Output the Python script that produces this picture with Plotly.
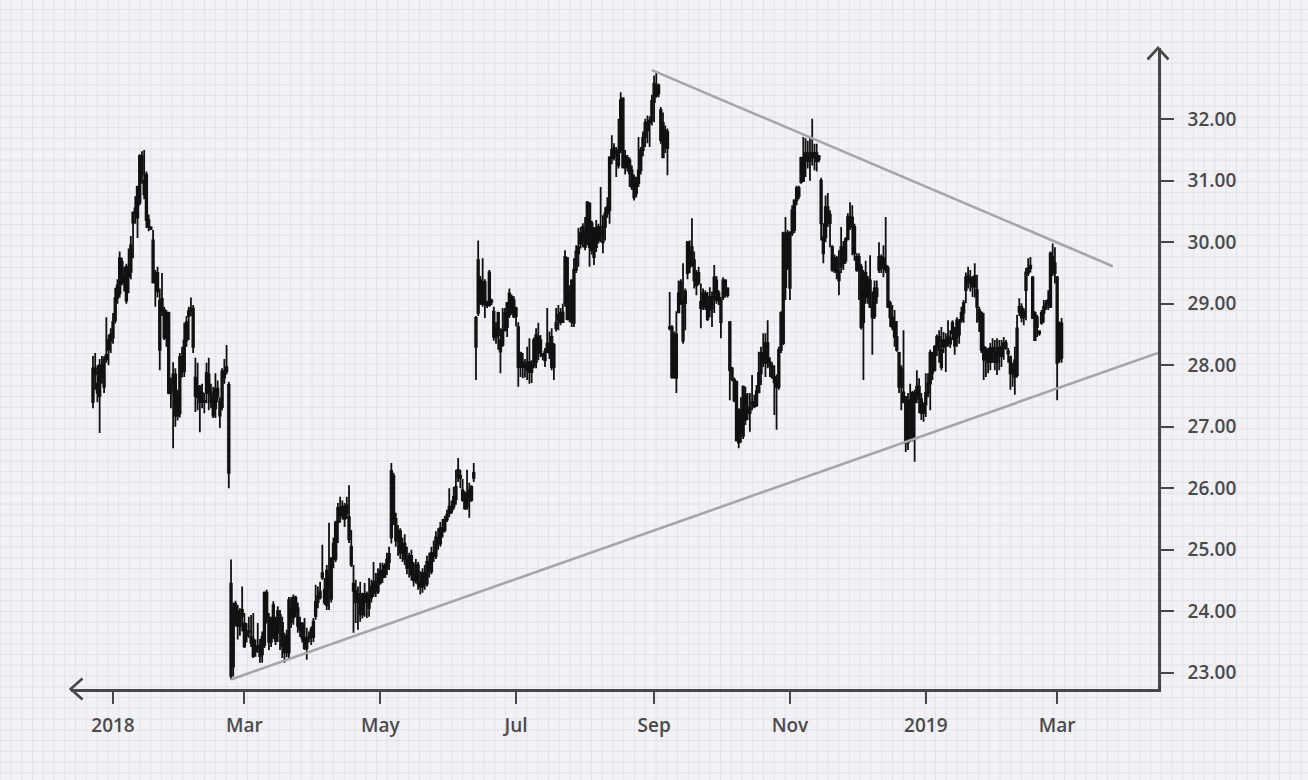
import pandas as pd
import plotly.graph_objects as go

# ---------------- data ----------------
first_day = "2017-12-23"   # daily candles, one per calendar day

seg1_ohlc = [
    [27.40, 28.15, 27.30, 27.95], [27.95, 28.20, 27.60, 27.85], [27.70, 28.00, 27.40, 27.55],
    [27.50, 28.10, 26.90, 28.00], [28.00, 28.15, 27.70, 27.80], [27.65, 28.15, 27.55, 28.10],
    [28.10, 28.78, 28.04, 28.17], [28.25, 28.50, 28.00, 28.41], [28.40, 28.60, 28.20, 28.50],
    [28.45, 28.85, 28.35, 28.70], [28.73, 29.26, 28.68, 29.09], [29.09, 29.40, 29.00, 29.30],
    [29.17, 29.85, 29.10, 29.74], [29.68, 29.75, 29.30, 29.35], [29.35, 29.60, 29.20, 29.45],
    [29.60, 29.65, 29.00, 29.05], [29.45, 29.90, 29.17, 29.52], [29.52, 30.10, 29.40, 29.95],
    [30.32, 30.50, 29.74, 30.48], [30.48, 30.75, 30.30, 30.55], [30.40, 30.92, 30.07, 30.90],
    [30.65, 31.43, 30.60, 31.40], [31.40, 31.48, 30.95, 31.10], [31.00, 31.50, 30.70, 30.78],
    [31.10, 31.15, 30.23, 30.36], [30.36, 30.45, 30.18, 30.25], [30.24, 30.26, 30.20, 30.22],
    [30.03, 30.20, 29.33, 29.35], [29.35, 29.55, 28.95, 29.50], [29.50, 29.60, 29.10, 29.20],
    [29.05, 29.25, 27.92, 28.25], [28.88, 29.50, 28.80, 29.08], [28.90, 28.95, 28.41, 28.45],
    [28.45, 28.90, 28.30, 28.85], [28.85, 28.87, 27.53, 27.55], [27.55, 27.80, 27.30, 27.70],
    [27.70, 28.05, 26.65, 27.85], [27.85, 27.95, 27.00, 27.18], [27.18, 27.60, 27.10, 27.50],
    [27.22, 28.20, 27.15, 28.13], [28.13, 28.30, 27.80, 27.90], [27.90, 28.69, 27.81, 28.40],
    [28.40, 28.80, 28.30, 28.70], [28.80, 28.95, 28.41, 28.88], [28.88, 29.10, 28.80, 28.92],
    [28.92, 28.98, 28.20, 28.30], [27.80, 28.12, 27.24, 27.50], [27.48, 28.04, 27.27, 27.63],
    [27.65, 27.68, 26.91, 27.40], [27.40, 27.70, 27.30, 27.55], [27.40, 27.55, 27.22, 27.42],
    [27.55, 28.04, 27.38, 27.87], [27.85, 28.12, 27.27, 27.56], [27.56, 27.70, 27.30, 27.40],
    [27.48, 27.65, 27.14, 27.18], [27.30, 27.87, 27.14, 27.62], [27.62, 27.75, 27.40, 27.50],
    [27.40, 27.48, 26.98, 27.18], [27.32, 27.95, 27.27, 27.90], [27.90, 28.10, 27.70, 27.80],
    [27.90, 28.33, 27.85, 27.97], [27.68, 27.73, 26.00, 26.25],
]

seg2_ohlc = [
    [22.95, 24.84, 22.89, 24.45], [24.05, 24.14, 22.94, 23.10], [23.82, 24.17, 23.75, 24.12],
    [24.00, 24.10, 23.54, 23.76], [23.76, 24.05, 23.60, 23.95], [23.92, 24.40, 23.67, 24.02],
    [23.80, 23.97, 23.40, 23.43], [23.60, 23.81, 23.49, 23.65], [23.66, 23.91, 23.57, 23.68],
    [23.58, 23.94, 23.42, 23.49], [23.54, 23.97, 23.24, 23.27], [23.35, 23.54, 23.26, 23.42],
    [23.40, 23.81, 23.32, 23.43], [23.45, 23.55, 23.16, 23.27], [23.30, 23.67, 23.16, 23.58],
    [23.45, 24.32, 23.40, 24.30], [24.30, 24.35, 23.80, 23.90], [23.90, 23.97, 23.37, 23.50],
    [23.50, 23.91, 23.42, 23.85], [23.60, 24.16, 23.55, 24.10], [23.85, 23.91, 23.45, 23.52],
    [23.65, 24.08, 23.50, 24.00], [23.80, 24.02, 23.37, 23.94], [23.81, 23.91, 23.24, 23.43],
    [23.45, 23.65, 23.16, 23.33], [23.33, 23.70, 23.25, 23.60], [23.33, 24.23, 23.24, 24.18],
    [24.05, 24.23, 23.73, 23.83], [23.90, 24.27, 23.78, 24.22], [24.22, 24.25, 23.90, 24.00],
    [24.05, 24.14, 23.65, 23.76],
    [23.70, 23.91, 23.58, 23.80], [23.80, 23.82, 23.49, 23.56], [23.56, 23.89, 23.37, 23.40],
    [23.40, 23.73, 23.21, 23.56], [23.56, 23.67, 23.49, 23.58], [23.58, 23.75, 23.45, 23.70],
    [23.58, 23.89, 23.50, 23.83], [23.92, 24.43, 23.86, 24.15], [24.15, 24.40, 24.05, 24.25],
    [24.22, 24.48, 24.19, 24.32], [24.55, 25.08, 24.51, 24.62], [24.35, 24.54, 24.10, 24.15],
    [24.10, 24.75, 24.02, 24.66], [24.60, 25.44, 24.02, 24.38], [24.20, 24.88, 24.14, 24.85],
    [24.85, 25.20, 24.70, 25.10], [24.85, 25.47, 24.80, 25.44], [25.45, 25.76, 25.11, 25.68],
    [25.68, 25.86, 25.44, 25.55], [25.55, 25.80, 25.49, 25.70], [25.70, 25.76, 25.37, 25.50],
    [25.60, 25.86, 25.50, 25.72], [25.53, 26.05, 25.11, 25.17], [25.05, 25.32, 24.72, 24.76],
    [24.45, 24.75, 23.65, 24.33], [24.33, 24.51, 23.81, 24.15], [24.15, 24.40, 23.70, 24.28],
    [24.28, 24.48, 23.83, 23.95], [23.95, 24.30, 23.88, 24.20], [24.28, 24.46, 23.91, 24.15],
    [24.15, 24.32, 23.89, 24.28], [24.25, 24.54, 23.91, 24.05], [24.22, 24.51, 24.14, 24.40],
    [24.30, 24.80, 24.23, 24.48], [24.48, 24.62, 24.23, 24.32], [24.32, 24.70, 24.28, 24.60],
    [24.46, 24.79, 24.43, 24.66], [24.66, 24.79, 24.46, 24.55], [24.56, 24.78, 24.54, 24.74],
    [24.70, 24.95, 24.59, 24.84], [24.80, 25.05, 24.67, 24.93], [25.20, 26.41, 25.10, 26.28],
    [26.20, 26.25, 25.40, 25.50], [25.50, 25.60, 25.05, 25.15], [25.15, 25.40, 24.90, 25.30],
    [25.30, 25.35, 24.85, 24.95], [24.95, 25.20, 24.80, 25.10], [25.10, 25.25, 24.75, 24.85],
    [24.85, 25.05, 24.60, 24.70], [24.70, 24.95, 24.55, 24.90], [24.90, 25.00, 24.50, 24.60],
    [24.60, 24.80, 24.40, 24.50], [24.50, 24.85, 24.45, 24.75], [24.75, 24.80, 24.35, 24.45],
    [24.45, 24.65, 24.27, 24.40], [24.40, 24.70, 24.30, 24.62], [24.62, 24.75, 24.35, 24.45],
    [24.45, 24.90, 24.40, 24.80], [24.80, 24.95, 24.55, 24.65], [24.65, 25.05, 24.60, 24.95],
    [24.95, 25.15, 24.80, 24.90], [24.90, 25.30, 24.85, 25.20], [25.20, 25.35, 25.00, 25.10],
    [25.10, 25.45, 25.05, 25.35], [25.35, 25.50, 25.20, 25.30],
    [25.32, 25.55, 25.28, 25.49], [25.49, 25.65, 25.45, 25.57], [25.60, 26.00, 25.53, 25.70],
    [25.70, 25.80, 25.58, 25.62], [25.70, 26.02, 25.65, 25.86], [25.82, 26.30, 25.73, 26.02],
    [26.17, 26.49, 26.10, 26.30], [26.20, 26.30, 26.00, 26.17], [25.97, 26.15, 25.78, 25.81],
    [25.90, 25.95, 25.65, 25.67], [25.70, 26.30, 25.65, 25.92], [25.97, 26.09, 25.52, 25.80],
    [25.81, 26.05, 25.78, 26.02], [26.17, 26.41, 26.10, 26.25],
]

seg3_ohlc = [
    [28.77, 28.80, 27.76, 28.30], [28.85, 30.03, 28.80, 29.71], [29.38, 29.45, 28.98, 29.01],
    [29.00, 29.74, 28.95, 29.35], [29.35, 29.40, 28.77, 29.00], [29.00, 29.05, 28.93, 28.98],
    [28.98, 29.55, 28.95, 29.51], [29.05, 29.08, 28.98, 29.03], [28.87, 28.95, 28.40, 28.46],
    [28.46, 28.70, 28.35, 28.60], [28.49, 28.87, 28.25, 28.85], [28.41, 28.60, 27.87, 28.22],
    [28.33, 28.93, 28.30, 28.57], [28.57, 28.93, 28.55, 28.85], [28.62, 29.03, 28.46, 29.01],
    [28.82, 29.25, 28.77, 29.17], [29.11, 29.15, 28.82, 28.85], [29.06, 29.12, 28.77, 28.79],
    [28.80, 28.95, 28.63, 28.93], [28.62, 28.70, 27.65, 27.97], [28.20, 28.22, 27.81, 27.97],
    [28.05, 28.20, 27.79, 27.97], [27.97, 28.10, 27.80, 28.00], [27.92, 28.30, 27.76, 28.04],
    [27.89, 28.44, 27.70, 28.05], [28.00, 28.08, 27.71, 27.89], [28.00, 28.45, 27.95, 28.41],
    [28.05, 28.60, 27.95, 28.49], [28.46, 28.69, 28.08, 28.25], [28.20, 28.49, 28.13, 28.41],
    [28.18, 28.20, 28.08, 28.16], [28.22, 28.28, 27.97, 28.08], [28.22, 28.93, 28.20, 28.35],
    [28.35, 28.55, 28.10, 28.20], [28.46, 28.60, 27.92, 27.97], [27.97, 28.36, 27.76, 28.33],
    [28.60, 28.93, 28.55, 28.69], [28.73, 28.98, 28.57, 28.82], [28.70, 28.93, 28.65, 28.85],
    [28.86, 29.00, 28.69, 28.70], [29.01, 29.87, 28.95, 29.76], [29.74, 29.76, 28.73, 28.75],
    [28.75, 29.30, 28.70, 29.20], [29.38, 29.40, 28.62, 28.71], [28.69, 29.74, 28.62, 29.55],
    [29.55, 29.95, 29.50, 29.85], [29.82, 30.23, 29.60, 29.92], [29.98, 30.25, 29.90, 30.15],
    [30.03, 30.31, 29.92, 30.25], [30.15, 30.41, 29.87, 29.92], [30.00, 30.67, 29.95, 30.65],
    [30.63, 30.65, 29.60, 29.92], [29.87, 30.35, 29.80, 30.31], [30.20, 30.25, 29.63, 29.76],
    [29.92, 30.36, 29.84, 30.23], [30.25, 30.30, 29.98, 30.03], [30.12, 30.90, 30.00, 30.17],
    [30.00, 30.44, 29.82, 30.25], [30.25, 30.57, 30.03, 30.47], [30.47, 30.73, 30.40, 30.57],
    [30.52, 31.40, 30.30, 31.38], [31.37, 31.74, 31.27, 31.50], [31.53, 31.61, 31.33, 31.38],
    [31.45, 31.55, 31.06, 31.48], [31.25, 32.01, 31.20, 31.50], [31.50, 32.44, 31.45, 32.31],
    [32.34, 32.36, 31.20, 31.22], [31.22, 31.50, 31.10, 31.40], [31.22, 31.42, 31.15, 31.37],
    [31.33, 31.38, 30.90, 31.12], [31.17, 31.25, 30.85, 30.90], [31.06, 31.10, 30.68, 30.73],
    [30.80, 31.06, 30.73, 31.01], [30.96, 31.71, 30.90, 31.17], [31.17, 31.55, 31.10, 31.50],
    [31.50, 31.80, 31.40, 31.70], [31.71, 32.01, 31.55, 31.94], [31.95, 32.06, 31.61, 31.82],
    [31.94, 32.05, 31.55, 31.98], [31.98, 32.40, 31.90, 32.30], [32.28, 32.71, 31.95, 32.58],
    [32.55, 32.77, 32.35, 32.39], [32.55, 32.58, 32.36, 32.42], [32.15, 32.20, 31.60, 31.66],
    [31.94, 32.11, 31.38, 31.38], [31.55, 31.90, 31.45, 31.82], [31.79, 31.85, 31.09, 31.53],
]

seg4_ohlc = [
    [28.60, 29.19, 28.57, 28.62], [28.62, 28.65, 27.78, 27.81], [27.81, 28.55, 27.78, 28.50],
    [28.50, 28.88, 27.55, 27.80], [28.86, 29.38, 28.85, 29.17], [29.35, 29.40, 28.98, 29.01],
    [29.05, 29.66, 28.35, 28.40], [29.01, 29.25, 28.57, 29.20], [29.50, 30.02, 29.40, 30.00],
    [29.84, 30.03, 29.50, 29.60], [29.63, 30.39, 29.60, 29.92], [29.71, 29.85, 29.25, 29.38],
    [29.30, 29.55, 29.14, 29.50], [29.50, 29.60, 29.30, 29.35], [29.03, 29.33, 28.60, 28.93],
    [28.98, 29.25, 28.90, 29.17], [29.17, 29.22, 28.90, 28.95], [28.95, 29.19, 28.72, 28.75],
    [28.90, 29.27, 28.78, 29.11], [29.11, 29.20, 28.62, 28.92], [29.11, 29.63, 28.85, 29.43],
    [29.38, 29.45, 29.00, 29.06], [29.06, 29.22, 28.98, 29.17], [29.06, 29.11, 28.44, 28.70],
    [29.11, 29.43, 29.06, 29.38], [29.38, 29.40, 29.10, 29.14], [29.14, 29.27, 29.10, 29.25],
    [28.70, 28.72, 27.43, 27.92], [27.95, 27.97, 27.74, 27.78], [27.76, 27.80, 27.40, 27.43],
    [27.73, 27.75, 26.76, 26.78], [26.74, 27.30, 26.65, 27.27], [27.27, 27.48, 26.74, 26.90],
    [26.85, 27.67, 26.80, 27.65], [27.52, 27.65, 27.03, 27.11], [27.25, 27.55, 27.11, 27.22],
    [27.22, 27.55, 26.92, 27.32], [27.36, 27.84, 27.27, 27.40], [27.40, 27.52, 27.30, 27.33],
    [27.35, 27.68, 27.32, 27.58], [27.56, 28.22, 27.55, 27.87], [27.87, 28.30, 27.68, 28.20],
    [28.20, 28.52, 27.97, 28.04], [28.04, 28.52, 27.81, 28.36], [28.36, 28.73, 27.95, 28.05],
    [28.05, 28.13, 27.81, 27.98], [27.98, 28.05, 27.78, 27.81], [27.81, 28.00, 27.19, 27.72],
    [27.72, 27.85, 26.95, 27.65], [27.65, 28.30, 27.60, 28.25], [28.25, 28.88, 28.20, 28.85],
    [28.36, 30.17, 28.33, 30.15], [30.08, 30.41, 29.06, 29.27], [29.60, 30.20, 29.55, 30.15],
    [30.15, 30.18, 29.06, 29.26], [30.15, 30.60, 30.10, 30.52], [30.20, 30.70, 30.15, 30.68],
    [30.68, 30.92, 30.60, 30.88], [30.88, 30.92, 30.70, 30.75], [30.98, 31.39, 30.95, 31.37],
    [31.37, 31.71, 30.98, 31.00], [31.35, 31.69, 31.06, 31.45], [31.45, 31.65, 31.20, 31.32],
    [31.32, 31.71, 31.00, 31.45], [31.45, 32.01, 31.25, 31.38], [31.38, 31.60, 31.17, 31.45],
    [31.45, 31.60, 31.15, 31.32], [31.35, 31.42, 31.30, 31.40], [31.00, 31.05, 30.03, 30.31],
    [30.08, 30.31, 29.66, 29.82], [30.08, 30.76, 30.00, 30.57], [30.57, 30.80, 30.25, 30.31],
    [30.31, 30.52, 29.92, 30.45], [29.92, 29.95, 29.52, 29.55], [29.55, 29.80, 29.50, 29.74],
    [29.74, 29.78, 29.40, 29.52], [29.52, 29.87, 29.14, 29.38], [29.60, 30.25, 29.50, 29.92],
    [29.92, 30.02, 29.55, 29.66], [29.70, 30.08, 29.65, 30.05], [30.05, 30.47, 30.03, 30.41],
    [30.41, 30.65, 30.20, 30.25], [30.25, 30.60, 29.79, 30.40], [30.25, 30.30, 29.70, 29.82],
    [29.76, 29.82, 29.52, 29.55], [29.55, 29.82, 29.06, 29.76], [29.60, 29.65, 28.58, 28.62],
    [28.70, 29.55, 27.76, 29.48], [29.50, 29.70, 29.00, 29.11], [29.11, 29.45, 29.00, 29.40],
    [29.38, 29.79, 28.93, 28.95], [28.95, 29.20, 28.17, 28.78], [28.80, 29.38, 28.75, 29.25],
    [29.25, 29.38, 29.00, 29.12], [29.55, 30.00, 29.50, 29.76], [29.76, 29.80, 29.50, 29.58],
    [29.58, 29.95, 29.43, 29.74], [29.62, 30.41, 29.50, 29.55], [29.58, 29.62, 28.93, 28.95],
    [29.01, 29.05, 28.62, 28.78], [28.78, 28.98, 28.57, 28.62], [28.70, 28.90, 28.30, 28.46],
    [28.46, 28.72, 28.22, 28.25], [28.20, 28.22, 27.55, 27.65], [27.65, 28.00, 27.27, 27.95],
    [27.56, 28.57, 27.38, 27.40], [27.48, 27.50, 26.59, 26.74], [26.74, 27.55, 26.62, 27.43],
    [27.43, 27.70, 26.75, 26.80], [26.80, 27.58, 26.76, 27.55], [27.55, 27.60, 26.43, 27.40],
    [27.50, 27.92, 27.38, 27.65], [27.65, 27.79, 27.22, 27.45], [27.45, 27.55, 27.11, 27.22],
    [27.22, 27.40, 27.08, 27.36], [27.36, 27.87, 27.16, 27.55], [27.55, 27.87, 27.48, 27.70],
    [27.70, 28.25, 27.27, 28.20], [28.20, 28.22, 27.76, 27.88], [27.92, 28.33, 27.90, 28.30],
    [28.30, 28.50, 28.15, 28.46], [28.46, 28.57, 28.04, 28.25], [28.25, 28.62, 27.92, 27.97],
    [28.30, 28.54, 28.20, 28.41], [28.41, 28.52, 27.89, 28.32], [28.36, 28.73, 28.30, 28.46],
    [28.44, 28.57, 28.28, 28.35], [28.52, 28.73, 28.41, 28.69], [28.60, 28.62, 28.17, 28.32],
    [28.46, 28.78, 28.30, 28.73], [28.70, 28.75, 28.35, 28.50], [28.73, 28.95, 28.69, 28.85],
    [28.85, 29.06, 28.69, 29.01], [29.22, 29.51, 29.01, 29.43], [29.45, 29.60, 29.25, 29.35],
    [29.35, 29.55, 29.20, 29.42], [29.40, 29.45, 29.11, 29.28], [29.28, 29.66, 29.10, 29.45],
    [29.22, 29.47, 28.69, 28.95], [28.90, 28.95, 28.54, 28.73], [28.85, 28.88, 28.20, 28.25],
    [28.30, 28.85, 27.76, 28.09], [28.09, 28.30, 27.81, 28.25], [28.25, 28.28, 27.87, 28.05],
    [28.05, 28.36, 27.92, 28.28], [28.28, 28.44, 28.04, 28.22], [28.22, 28.41, 27.92, 28.05],
    [28.05, 28.44, 27.84, 28.28], [28.28, 28.41, 27.92, 28.15], [28.15, 28.41, 27.97, 28.30],
    [28.30, 28.46, 28.09, 28.36], [28.36, 28.41, 28.25, 28.28], [28.23, 28.28, 28.04, 28.19],
    [28.13, 28.16, 27.60, 27.87], [27.87, 28.04, 27.65, 27.92], [28.08, 28.30, 27.52, 27.81],
    [27.84, 28.82, 27.80, 28.60], [28.87, 29.09, 28.80, 28.95], [28.95, 29.01, 28.70, 28.78],
    [28.78, 28.93, 28.65, 28.88], [29.22, 29.58, 28.73, 29.51], [29.50, 29.74, 29.45, 29.58],
    [29.58, 29.76, 29.51, 29.62], [29.43, 29.45, 28.75, 28.77], [28.85, 28.88, 28.40, 28.41],
    [28.62, 28.82, 28.46, 28.78], [28.55, 28.57, 28.48, 28.52], [28.69, 28.90, 28.66, 28.85],
    [28.85, 29.06, 28.69, 28.95], [28.95, 29.06, 28.90, 29.01], [29.01, 29.22, 28.90, 29.06],
    [28.95, 29.85, 28.93, 29.82], [29.76, 29.98, 29.45, 29.50], [29.50, 29.92, 29.33, 29.66],
    [29.43, 29.45, 27.43, 28.04], [28.09, 28.71, 28.04, 28.68], [28.68, 28.77, 28.04, 28.12],
]

upper_trend_dates = ["2018-08-31", "2019-03-26"]
upper_trend_values = [32.80, 29.61]
lower_trend_dates = ["2018-02-23", "2019-04-15 07:00"]
lower_trend_values = [22.89, 28.20]

x_tick_dates = ["2018-01-01", "2018-03-01", "2018-05-01", "2018-07-01",
                "2018-09-01", "2018-11-01", "2019-01-01", "2019-03-01"]
x_tick_labels = ["2018", "Mar", "May", "Jul", "Sep", "Nov", "2019", "Mar"]
y_tick_values = [23, 24, 25, 26, 27, 28, 29, 30, 31, 32]

# ---------------- build ----------------
rows = seg1_ohlc + seg2_ohlc + seg3_ohlc + seg4_ohlc
dates = pd.date_range(first_day, periods=len(rows), freq="D")
opens = [r[0] for r in rows]
highs = [r[1] for r in rows]
lows = [r[2] for r in rows]
closes = [r[3] for r in rows]

W, H = 1308, 780
AX = "#474747"
BG = "#f2f1f5"
GRID = "#e3e2e8"


def px(x):
    return x / W


def py(y):
    return 1 - y / H


fig = go.Figure()

fig.add_trace(go.Scatter(x=upper_trend_dates, y=upper_trend_values, mode="lines",
                         line=dict(color="#a6a6a8", width=2.6), hoverinfo="skip",
                         showlegend=False))
fig.add_trace(go.Scatter(x=lower_trend_dates, y=lower_trend_values, mode="lines",
                         line=dict(color="#a6a6a8", width=2.6), hoverinfo="skip",
                         showlegend=False))

fig.add_trace(go.Candlestick(
    x=dates, open=opens, high=highs, low=lows, close=closes,
    increasing=dict(line=dict(color="#111111", width=1.8), fillcolor="#111111"),
    decreasing=dict(line=dict(color="#111111", width=1.8), fillcolor="#111111"),
    showlegend=False,
))

# graph-paper background
shapes = []
step = 10.75
k = 0
while k * step <= W:
    xv = 0.25 + k * step
    shapes.append(dict(type="line", xref="paper", yref="paper", x0=px(xv), x1=px(xv),
                       y0=0, y1=1, line=dict(color=GRID, width=1), layer="below"))
    k += 1
k = 0
while k * step <= H:
    yv = 9.5 + k * step
    shapes.append(dict(type="line", xref="paper", yref="paper", x0=0, x1=1,
                       y0=py(yv), y1=py(yv), line=dict(color=GRID, width=1), layer="below"))
    k += 1

# arrow heads
shapes.append(dict(type="path", xref="paper", yref="paper",
                   path=f"M {px(82.5)},{py(678.5)} L {px(70.7)},{py(689)} L {px(82.5)},{py(699.5)}",
                   line=dict(color=AX, width=2.6), layer="above"))
shapes.append(dict(type="path", xref="paper", yref="paper",
                   path=f"M {px(1147.5)},{py(59.5)} L {px(1158)},{py(48)} L {px(1168.5)},{py(59.5)}",
                   line=dict(color=AX, width=2.6), layer="above"))

tick_font = dict(family="Open Sans", size=19, color="#4a4a4a", weight=600)

fig.update_layout(
    width=W, height=H,
    margin=dict(l=0, r=0, t=0, b=0),
    paper_bgcolor=BG, plot_bgcolor="rgba(0,0,0,0)",
    boxgap=0.0,
    shapes=shapes,
    showlegend=False,
    xaxis=dict(
        type="date", domain=[px(70.7), px(1158)],
        range=["2017-12-13 00:00", "2019-04-15 07:00"],
        rangeslider=dict(visible=False),
        showgrid=False, zeroline=False,
        showline=True, linecolor=AX, linewidth=2.6,
        ticks="outside", ticklen=12, tickwidth=2.4, tickcolor=AX,
        tickvals=x_tick_dates, ticktext=x_tick_labels,
        tickfont=tick_font, ticklabelstandoff=5,
    ),
    yaxis=dict(
        domain=[py(689), py(48)],
        range=[22.735, 33.159],
        side="right",
        showgrid=False, zeroline=False,
        showline=True, linecolor=AX, linewidth=2.6,
        ticks="outside", ticklen=13, tickwidth=2.4, tickcolor=AX,
        tickvals=y_tick_values, tickformat=".2f",
        tickfont=tick_font, ticklabelstandoff=10,
    ),
)

fig.write_html(
    "out.html",
    config={"displayModeBar": False},
    post_script="document.body.style.margin='0px';document.body.style.overflow='hidden';"
                "document.documentElement.style.background='" + BG + "';",
)
